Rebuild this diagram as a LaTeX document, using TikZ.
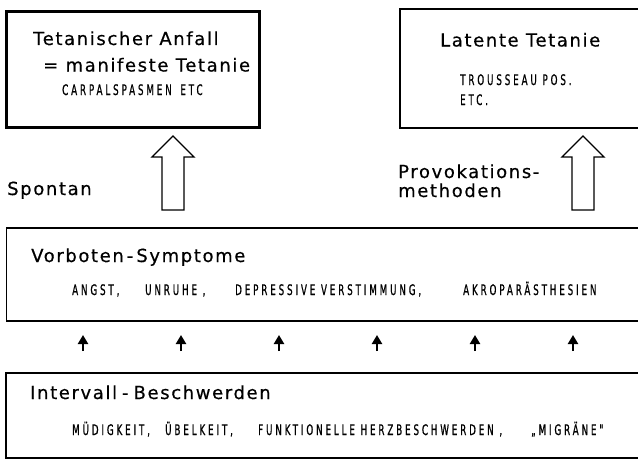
\documentclass[tikz,border=0pt]{standalone}
\usepackage{fontspec}
\setmainfont{DejaVu Sans}
\newfontfamily\headfont[LetterSpace=9,FakeBold=0.5]{DejaVu Sans}
\newfontfamily\capsfont[FakeStretch=0.6,LetterSpace=20,FakeBold=0.8]{DejaVu Sans}
\usetikzlibrary{arrows.meta}
\tikzset{
  headtxt/.style={anchor=base west,inner sep=0pt,font=\headfont\fontsize{18}{20}\selectfont},
  capstxt/.style={anchor=base west,inner sep=0pt,font=\capsfont\fontsize{14.5}{16}\selectfont},
  thickbox/.style={draw,line width=3pt},
  thinbox/.style={draw,line width=1.8pt},
  hollow/.style={draw,line width=1.4pt,line join=miter,fill=white},
  smallarrow/.style={line width=2.4pt,-{Triangle[length=9pt,width=10pt]}}
}
\begin{document}
\begin{tikzpicture}[x=1pt,y=-1pt]
\useasboundingbox (0,0) rectangle (638,463);
% boxes
\node[thickbox,minimum width=253pt,minimum height=116pt,anchor=north west,inner sep=0pt] (manifest) at (5,10) {};
\node[thinbox,minimum width=250pt,minimum height=119pt,anchor=north west,inner sep=0pt] (latent) at (399,8) {};
\node[thinbox,minimum width=645pt,minimum height=93pt,anchor=north west,inner sep=0pt] (vorboten) at (5.5,227) {};
\node[thinbox,minimum width=645pt,minimum height=85pt,anchor=north west,inner sep=0pt] (intervall) at (5,372) {};
% top-left texts
\node[headtxt] (t1) at (33,45) {Tetanischer Anfall};
\node[headtxt] (t2) at (43,71.5) {= manifeste Tetanie};
\node[capstxt] (t3) at (62,95) {CARPALSPASMEN\hspace{3pt} ETC};
% top-right texts
\node[headtxt] (l1) at (440,46.5) {Latente Tetanie};
\node[capstxt] (l2) at (460,85) {TROUSSEAU POS.};
\node[capstxt] (l3) at (460,105) {ETC.};
% side labels
\node[headtxt] (spontan) at (7,195) {Spontan};
\node[headtxt] (prov1) at (398,178) {Provokations-};
\node[headtxt] (prov2) at (398,197) {methoden};
% hollow arrows
\draw[hollow] (162,210) -- (162,157) -- (152,157) -- (173,136) -- (194,157) -- (184,157) -- (184,210) -- cycle;
\draw[hollow] (572,210) -- (572,157) -- (562,157) -- (583,136) -- (604,157) -- (594,157) -- (594,210) -- cycle;
% middle box texts
\node[headtxt] (v1) at (31,262) {Vorboten\,-\,Symptome};
\node[capstxt] (v2) at (72,295) {ANGST,};
\node[capstxt] (v3) at (145,295) {UNRUHE ,};
\node[capstxt] (v4) at (235,295) {DEPRESSIVE VERSTIMMUNG,};
\node[capstxt] (v5) at (463,295) {AKROPARÄSTHESIEN};
% small arrows
\foreach \i/\x in {1/83,2/181,3/279,4/377,5/475,6/573}{
  \coordinate (s\i) at (\x,351);
  \coordinate (e\i) at (\x,335);
  \draw[smallarrow] (s\i) -- (e\i);
}
% bottom box texts
\node[headtxt] (i1) at (30,399) {Intervall\hspace{5pt}-\hspace{5pt}Beschwerden};
\node[capstxt] (i2) at (72,435) {MÜDIGKEIT,};
\node[capstxt] (i3) at (165,435) {ÜBELKEIT,};
\node[capstxt] (i4) at (258,435) {FUNKTIONELLE HERZBESCHWERDEN ,};
\node[capstxt] (i5) at (531,435) {„MIGRÄNE"};
\end{tikzpicture}
\end{document}
